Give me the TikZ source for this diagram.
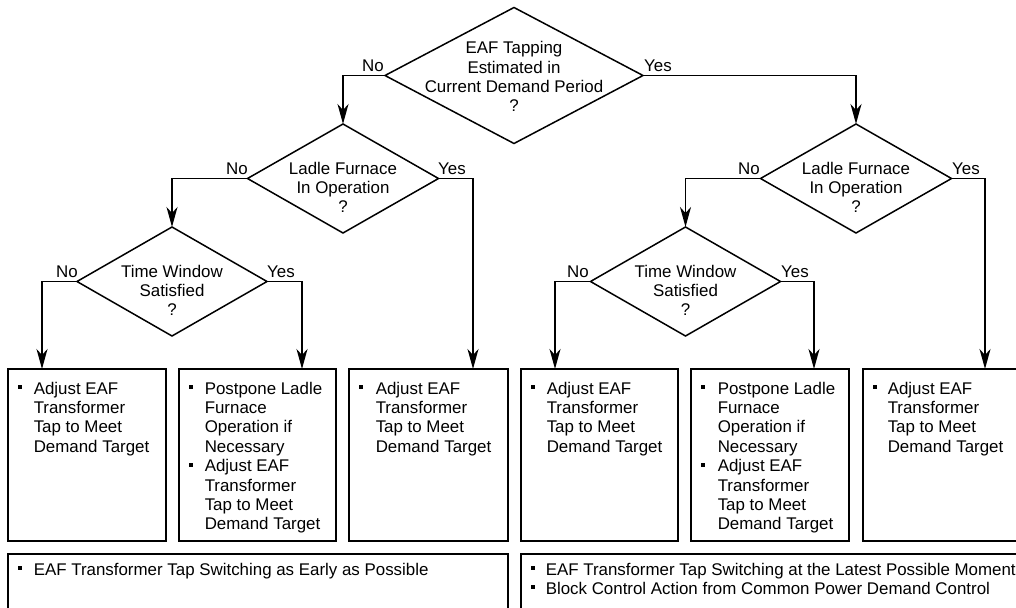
\documentclass[tikz,border=0pt]{standalone}
\usepackage{fontspec}
\setmainfont{Liberation Sans}
\usetikzlibrary{arrows.meta,shapes.geometric}
\begin{document}
\begin{tikzpicture}[x=1pt,y=-1pt,line width=1.5pt,
  dia/.style={draw,diamond,inner sep=0pt,outer sep=0pt},
  boxnode/.style={draw,rectangle,inner sep=0pt,outer sep=0pt,anchor=north west},
  txt/.style={inner sep=0pt,anchor=base west,align=left,font=\fontsize{16.9}{19.4}\selectfont},
  dtxt/.style={inner sep=0pt,anchor=base,align=center,font=\fontsize{16.9}{19.1}\selectfont},
  lbl/.style={inner sep=0pt,anchor=base,font=\fontsize{16.9}{19}\selectfont},
  arr/.style={-{Stealth[length=20pt,width=11pt,inset=6pt]}}]
\useasboundingbox (0,0) rectangle (1016,607);
\clip (0,0) rectangle (1016,607);
\newcommand{\bul}[2]{\fill (#1-2,#2-9) rectangle (#1+2,#2-5);}
% decisions
\node[dia,minimum width=258pt,minimum height=136pt] (top) at (514,75.5) {};
\node[dia,minimum width=191pt,minimum height=109pt] (ladL) at (343,178.5) {};
\node[dia,minimum width=191pt,minimum height=109pt] (ladR) at (856,178.5) {};
\node[dia,minimum width=190pt,minimum height=109pt] (timL) at (172,281.5) {};
\node[dia,minimum width=190pt,minimum height=109pt] (timR) at (685.5,281.5) {};
% (base anchor = last line baseline)
\node[dtxt] (topT) at (514,111.3) {EAF Tapping\\Estimated in\\Current Demand Period\\?};
\node[dtxt] (ladLT) at (343,212.2) {Ladle Furnace\\In Operation\\?};
\node[dtxt] (ladRT) at (856,212.2) {Ladle Furnace\\In Operation\\?};
\node[dtxt] (timLT) at (172,315.2) {Time Window\\Satisfied\\?};
\node[dtxt] (timRT) at (685.5,315.2) {Time Window\\Satisfied\\?};
% boxes
\node[boxnode,minimum width=158pt,minimum height=172pt] (b1) at (8,369) {};
\node[boxnode,minimum width=157pt,minimum height=172pt] (b2) at (179,369) {};
\node[boxnode,minimum width=159pt,minimum height=172pt] (b3) at (349,369) {};
\node[boxnode,minimum width=157pt,minimum height=172pt] (b4) at (521,369) {};
\node[boxnode,minimum width=158pt,minimum height=172pt] (b5) at (691,369) {};
\node[boxnode,minimum width=180pt,minimum height=172pt] (b6) at (863,369) {};
\node[boxnode,minimum width=500pt,minimum height=70pt] (bl) at (8,554) {};
\node[boxnode,minimum width=520pt,minimum height=70pt] (br) at (521,554) {};
% arrow targets on box tops
\coordinate (t1) at (42,369);
\coordinate (t2) at (302,369);
\coordinate (t3) at (473,369);
\coordinate (t4) at (555,369);
\coordinate (t5) at (814,369);
\coordinate (t6) at (985,369);
% connectors
\draw[arr] (top.west) -| (ladL.north);
\draw[arr] (top.east) -| (ladR.north);
\draw[arr] (ladL.west) -| (timL.north);
\draw[arr] (ladL.east) -| (t3);
\draw[arr] (timL.west) -| (t1);
\draw[arr] (timL.east) -| (t2);
\draw[arr] (ladR.west) -| (timR.north);
\draw[arr] (ladR.east) -| (t6);
\draw[arr] (timR.west) -| (t4);
\draw[arr] (timR.east) -| (t5);
% labels
\node[lbl] (n1) at (373,72) {No};
\node[lbl] (y1) at (658,72) {Yes};
\node[lbl] (n2) at (237,174) {No};
\node[lbl] (y2) at (452,174) {Yes};
\node[lbl] (n3) at (67,277) {No};
\node[lbl] (y3) at (281,277) {Yes};
\node[lbl] (n4) at (749,174) {No};
\node[lbl] (y4) at (966,174) {Yes};
\node[lbl] (n5) at (578,277) {No};
\node[lbl] (y5) at (795,277) {Yes};
% box texts
\node[txt] (x1) at (33,452.2) {Adjust EAF\\Transformer\\Tap to Meet\\Demand Target};
\bul{20}{394}
\node[txt] (x2) at (204,529.8) {Postpone Ladle\\Furnace\\Operation if\\Necessary\\Adjust EAF\\Transformer\\Tap to Meet\\Demand Target};
\bul{191}{394}\bul{191}{471.6}
\node[txt] (x3) at (375,452.2) {Adjust EAF\\Transformer\\Tap to Meet\\Demand Target};
\bul{361}{394}
\node[txt] (x4) at (546,452.2) {Adjust EAF\\Transformer\\Tap to Meet\\Demand Target};
\bul{533}{394}
\node[txt] (x5) at (717,529.8) {Postpone Ladle\\Furnace\\Operation if\\Necessary\\Adjust EAF\\Transformer\\Tap to Meet\\Demand Target};
\bul{703}{394}\bul{703}{471.6}
\node[txt] (x6) at (887,452.2) {Adjust EAF\\Transformer\\Tap to Meet\\Demand Target};
\bul{875}{394}
\node[txt] (xl) at (33,575) {EAF Transformer Tap Switching as Early as Possible};
\bul{20}{575}
\node[txt] (xr) at (545,594.4) {EAF Transformer Tap Switching at the Latest Possible Moment\\Block Control Action from Common Power Demand Control};
\bul{533}{575}\bul{533}{594.4}
\end{tikzpicture}
\end{document}
